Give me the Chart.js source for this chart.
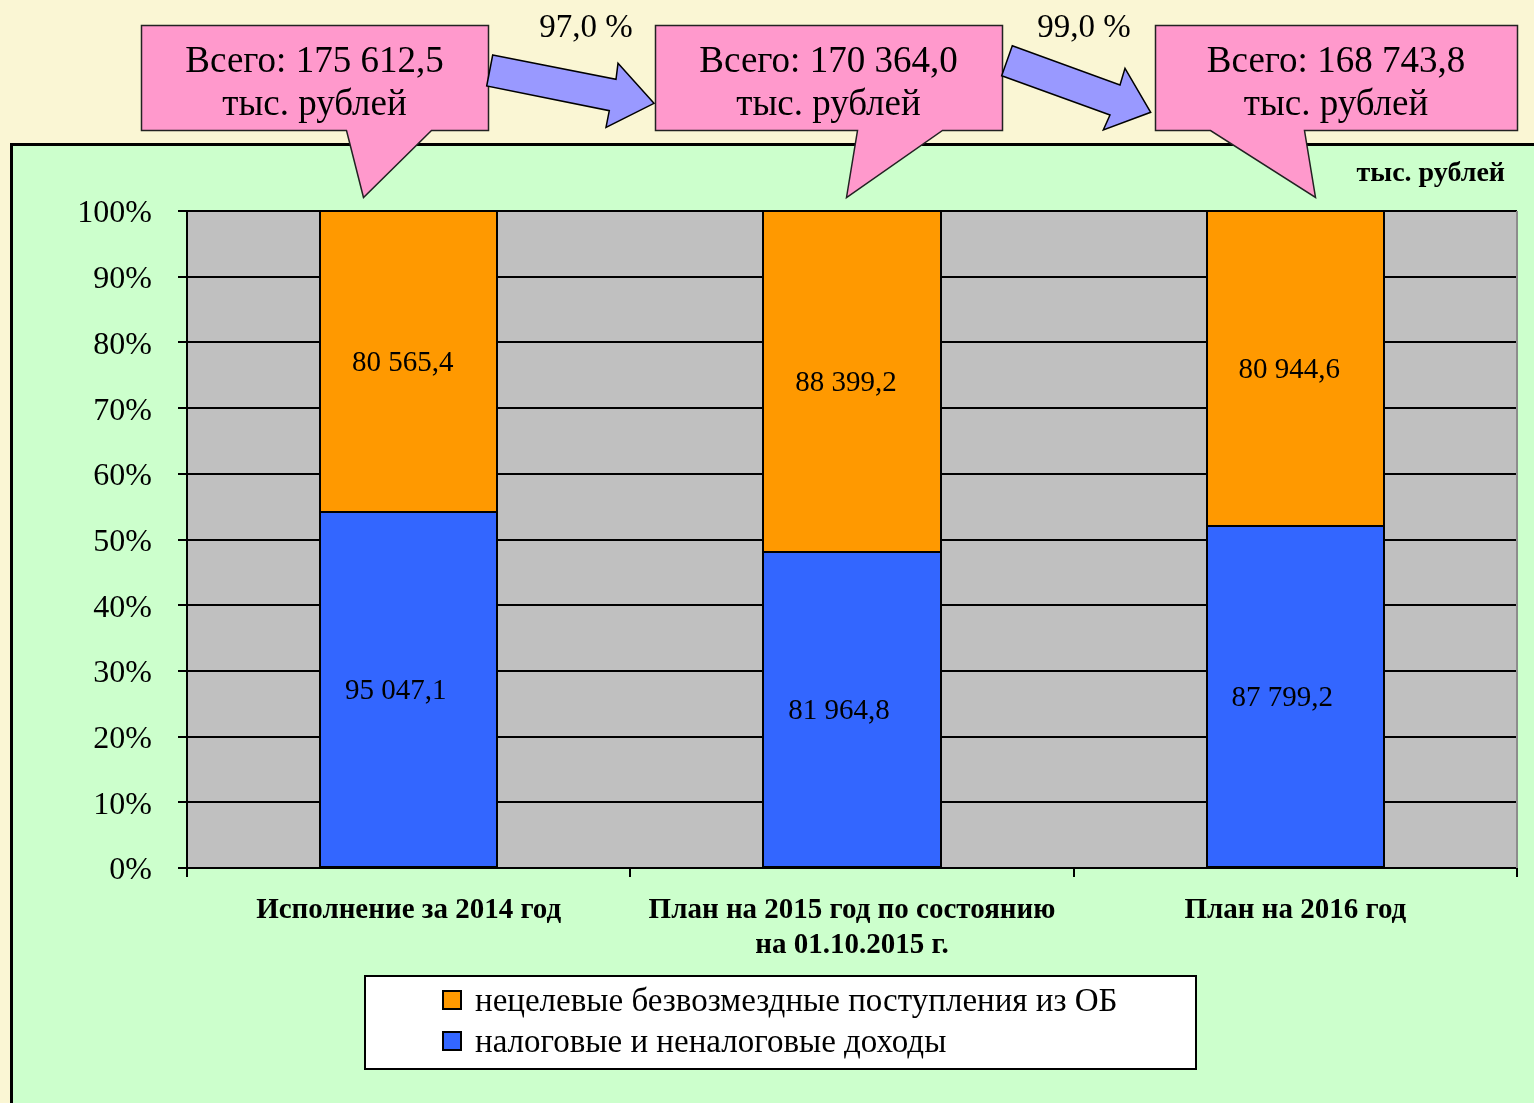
<!DOCTYPE html>
<html><head><meta charset="utf-8">
<script src="https://cdn.jsdelivr.net/npm/chart.js@4.4.0/dist/chart.umd.min.js"></script>
<style>html,body{margin:0;padding:0;background:#FAF6D4;overflow:hidden}#wrap{width:1534px;height:1103px;position:relative}canvas{display:block}</style>
</head><body><div id="wrap"><canvas id="c" width="1534" height="1103"></canvas></div>
<script>
// ---- data ----
const categories = [['Исполнение за 2014 год'], ['План на 2015 год по состоянию', 'на 01.10.2015 г.'], ['План на 2016 год']];
const taxIncome = [95047.1, 81964.8, 87799.2];          // налоговые и неналоговые доходы
const transfers = [80565.4, 88399.2, 80944.6];          // нецелевые безвозмездные поступления из ОБ
const seriesNames = ['налоговые и неналоговые доходы', 'нецелевые безвозмездные поступления из ОБ'];
const growthLabels = ['97,0 %', '99,0 %'];
const yTickValues = [0, 10, 20, 30, 40, 50, 60, 70, 80, 90, 100];
const unitLabel = 'тыс. рублей';

const totals = taxIncome.map((v, i) => v + transfers[i]);
const pct = (arr) => arr.map((v, i) => v / totals[i] * 100);

function fmt(v) {
  const s = v.toFixed(1).split('.');
  return s[0].replace(/\B(?=(\d{3})+(?!\d))/g, ' ') + ',' + s[1];
}

const SERIF = '"Liberation Serif", "Times New Roman", serif';
const BLUE = '#3366FF', ORANGE = '#FF9900';

const bgPlugin = {
  id: 'bg',
  beforeDraw(chart) {
    const ctx = chart.ctx, a = chart.chartArea;
    ctx.save();
    ctx.fillStyle = '#FAF6D4';
    ctx.fillRect(0, 0, chart.width, chart.height);
    ctx.fillStyle = '#CCFFCC';
    ctx.fillRect(11, 144, chart.width, chart.height);
    ctx.strokeStyle = '#000';
    ctx.lineWidth = 3;
    ctx.beginPath();
    ctx.moveTo(11.5, chart.height + 5);
    ctx.lineTo(11.5, 144.5);
    ctx.lineTo(chart.width + 5, 144.5);
    ctx.stroke();
    ctx.fillStyle = '#C0C0C0';
    ctx.fillRect(a.left, a.top, a.right - a.left, a.bottom - a.top);
    ctx.restore();
  },
  beforeDatasetsDraw(chart) {
    const ctx = chart.ctx, a = chart.chartArea;
    ctx.save();
    ctx.strokeStyle = '#8C8C8C';
    ctx.lineWidth = 2;
    ctx.beginPath();
    ctx.moveTo(a.right, a.top);
    ctx.lineTo(a.right, a.bottom);
    ctx.stroke();
    ctx.restore();
  }
};

const labelPlugin = {
  id: 'labels',
  afterDatasetsDraw(chart) {
    const ctx = chart.ctx;
    ctx.save();
    // crisp bar outlines from element geometry
    ctx.strokeStyle = '#000';
    ctx.lineWidth = 2;
    chart.data.datasets.forEach((ds, di) => {
      chart.getDatasetMeta(di).data.forEach(el => {
        const x0 = Math.round(el.x - el.width / 2), x1 = Math.round(el.x + el.width / 2);
        const y0 = Math.round(Math.min(el.y, el.base)), y1 = Math.round(Math.max(el.y, el.base));
        ctx.strokeRect(x0, y0, x1 - x0, y1 - y0);
      });
    });
    ctx.font = '29px ' + SERIF;
    ctx.fillStyle = '#000';
    ctx.textAlign = 'center';
    ctx.textBaseline = 'middle';
    const offs = [-13, -6];
    chart.data.datasets.forEach((ds, di) => {
      const meta = chart.getDatasetMeta(di);
      meta.data.forEach((el, i) => {
        ctx.fillText(fmt(ds.rawValues[i]), el.x + offs[di], (el.y + el.base) / 2 + 2);
      });
    });
    ctx.restore();
  },
  afterDraw(chart) {
    const ctx = chart.ctx;
    ctx.save();
    ctx.font = 'bold 28px ' + SERIF;
    ctx.fillStyle = '#000';
    ctx.textAlign = 'right';
    ctx.textBaseline = 'middle';
    ctx.fillText(unitLabel, 1505, 174);

    // legend
    const lx = 365, ly = 976, lw = 831, lh = 93;
    ctx.fillStyle = '#FFFFFF';
    ctx.fillRect(lx, ly, lw, lh);
    ctx.strokeStyle = '#000';
    ctx.lineWidth = 2;
    ctx.strokeRect(lx, ly, lw, lh);
    [1, 0].forEach((di, k) => {
      const ds = chart.data.datasets[di];
      const cy = 1000 + k * 41;
      ctx.fillStyle = ds.backgroundColor;
      ctx.fillRect(443, cy - 9, 18, 18);
      ctx.strokeStyle = '#000';
      ctx.lineWidth = 2;
      ctx.strokeRect(443, cy - 9, 18, 18);
      ctx.fillStyle = '#000';
      ctx.font = '33px ' + SERIF;
      ctx.textAlign = 'left';
      ctx.textBaseline = 'middle';
      ctx.fillText(ds.label, 475, cy + 2);
    });

    // callouts
    const callouts = [
      [[141,25],[488,25],[488,130],[431,130],[363,197],[346,130],[141,130]],
      [[655,25],[1002,25],[1002,130],[942,130],[846,197],[857,130],[655,130]],
      [[1155,25],[1517,25],[1517,130],[1304,130],[1315,197],[1210,130],[1155,130]]
    ];
    callouts.forEach((pts, i) => {
      ctx.beginPath();
      pts.forEach((p, j) => j ? ctx.lineTo(p[0] + 0.5, p[1] + 0.5) : ctx.moveTo(p[0] + 0.5, p[1] + 0.5));
      ctx.closePath();
      ctx.fillStyle = '#FF99CC';
      ctx.fill();
      ctx.strokeStyle = '#222';
      ctx.lineWidth = 1.5;
      ctx.stroke();
      const cx = (pts[0][0] + pts[1][0]) / 2;
      ctx.fillStyle = '#000';
      ctx.font = '37px ' + SERIF;
      ctx.textAlign = 'center';
      ctx.textBaseline = 'middle';
      ctx.fillText('Всего: ' + fmt(totals[i]), cx, 62);
      ctx.fillText(unitLabel, cx, 105);
    });

    // arrows
    const arrows = [
      [[492.7,55],[616,79.3],[618,63.3],[654,103.3],[606,127.3],[609.3,110.7],[486.7,86]],
      [[1012.3,45.7],[1120,85],[1125,68.3],[1150.7,112.3],[1103.3,130],[1110,115],[1001.7,75.7]]
    ];
    arrows.forEach(pts => {
      ctx.beginPath();
      pts.forEach((p, j) => j ? ctx.lineTo(p[0], p[1]) : ctx.moveTo(p[0], p[1]));
      ctx.closePath();
      ctx.fillStyle = '#9999FF';
      ctx.fill();
      ctx.strokeStyle = '#000';
      ctx.lineWidth = 1.5;
      ctx.stroke();
    });
    ctx.fillStyle = '#000';
    ctx.font = '33px ' + SERIF;
    ctx.textAlign = 'center';
    ctx.textBaseline = 'middle';
    ctx.fillText(growthLabels[0], 586, 28);
    ctx.fillText(growthLabels[1], 1084, 28);
    ctx.restore();
  }
};

new Chart(document.getElementById('c'), {
  type: 'bar',
  data: {
    labels: categories,
    datasets: [
      { label: seriesNames[0], data: pct(taxIncome), rawValues: taxIncome, backgroundColor: BLUE,
        borderWidth: 0, barPercentage: 0.4, categoryPercentage: 1.0 },
      { label: seriesNames[1], data: pct(transfers), rawValues: transfers, backgroundColor: ORANGE,
        borderWidth: 0, barPercentage: 0.4, categoryPercentage: 1.0 }
    ]
  },
  options: {
    responsive: false,
    devicePixelRatio: 1,
    animation: false,
    layout: { padding: { top: 211, right: 17, left: 0, bottom: 0 } },
    plugins: { legend: { display: false }, tooltip: { enabled: false }, title: { display: false } },
    scales: {
      x: {
        stacked: true,
        afterFit(s) { s.height = 235; },
        grid: { display: true, drawOnChartArea: false, drawTicks: true, tickLength: 9, color: '#000', lineWidth: 2, offset: true },
        border: { display: true, color: '#000', width: 2 },
        ticks: { font: { family: SERIF, size: 29, weight: 'bold', lineHeight: 1.2 }, color: '#000', padding: 16, maxRotation: 0, autoSkip: false }
      },
      y: {
        stacked: true,
        min: 0, max: 100,
        afterFit(s) { s.width = 187; },
        afterBuildTicks(s) { s.ticks = yTickValues.map(v => ({ value: v })); },
        grid: { color: '#000', lineWidth: 2, tickLength: 9, drawTicks: true },
        border: { display: true, color: '#000', width: 2 },
        ticks: { callback: v => v + '%', font: { family: SERIF, size: 32 }, color: '#000', padding: 26, labelOffset: 3 }
      }
    }
  },
  plugins: [bgPlugin, labelPlugin]
});
</script>
</body></html>
